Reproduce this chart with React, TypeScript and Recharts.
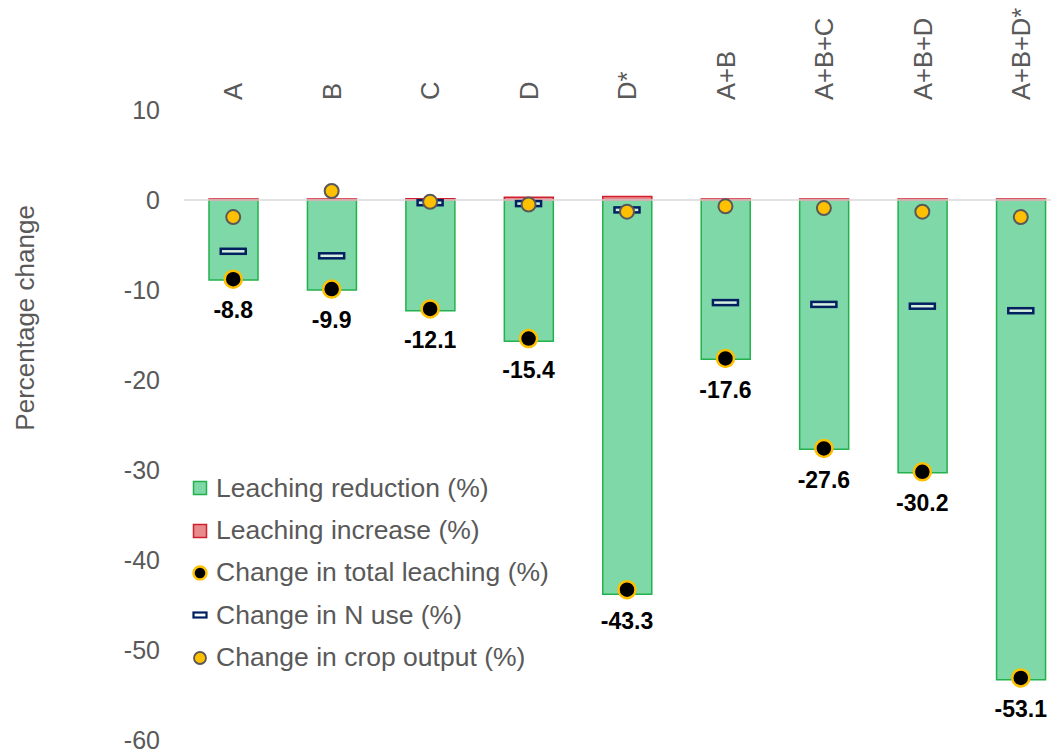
import React from 'react';
import {
  ComposedChart,
  Bar,
  Line,
  XAxis,
  YAxis,
  ReferenceLine,
  Legend,
  LabelList,
  Label,
} from 'recharts';

const categories = ['A', 'B', 'C', 'D', 'D*', 'A+B', 'A+B+C', 'A+B+D', 'A+B+D*'];
const leachingReduction = [-8.9, -10.0, -12.3, -15.7, -43.8, -17.7, -27.7, -30.3, -53.3];
const leachingIncrease = [0.1, 0.1, 0.15, 0.3, 0.4, 0.1, 0.1, 0.1, 0.1];
const totalLeaching = [-8.8, -9.9, -12.1, -15.4, -43.3, -17.6, -27.6, -30.2, -53.1];
const nUse = [-5.7, -6.2, -0.3, -0.4, -1.1, -11.4, -11.6, -11.8, -12.3];
const cropOutput = [-1.9, 1.0, -0.2, -0.5, -1.3, -0.7, -0.9, -1.3, -1.9];
const yTicks = [10, 0, -10, -20, -30, -40, -50, -60];

const seriesNames = {
  reduction: 'Leaching reduction (%)',
  increase: 'Leaching increase (%)',
  total: 'Change in total leaching (%)',
  nuse: 'Change in N use (%)',
  crop: 'Change in crop output (%)',
};

const data = categories.map((c, i) => ({
  name: c,
  reduction: leachingReduction[i],
  increase: leachingIncrease[i],
  total: totalLeaching[i],
  nuse: nUse[i],
  crop: cropOutput[i],
}));

const FONT = '"Liberation Sans", Arial, sans-serif';
const GRAY = '#595959';
const GREEN_FILL = '#7FD8A7';
const GREEN_STROKE = '#22B14C';
const RED_FILL = '#E8898C';
const RED_STROKE = '#D0202E';
const ORANGE = '#FFC000';
const NAVY = '#002060';

const CategoryTick = (props: any) => {
  const { x, y, payload } = props;
  return (
    <text
      x={x}
      y={y}
      transform={`rotate(-90, ${x}, ${y})`}
      textAnchor="start"
      dy="0.36em"
      fill={GRAY}
      fontSize={25.5}
      fontFamily={FONT}
    >
      {payload.value}
    </text>
  );
};

const TotalDot = (props: any) => {
  const { cx, cy } = props;
  if (cx == null || cy == null) return null;
  return <circle cx={cx} cy={cy} r={8.5} fill="#000" stroke={ORANGE} strokeWidth={2.5} />;
};

const CropDot = (props: any) => {
  const { cx, cy } = props;
  if (cx == null || cy == null) return null;
  return <circle cx={cx} cy={cy} r={7} fill={ORANGE} stroke={GRAY} strokeWidth={2} />;
};

const NUseDot = (props: any) => {
  const { cx, cy } = props;
  if (cx == null || cy == null) return null;
  return (
    <rect x={cx - 12.5} y={cy - 2.5} width={25} height={5} fill="#D5F0E0" stroke={NAVY} strokeWidth={2.5} />
  );
};

const TotalLabel = (props: any) => {
  const { x, y, value } = props;
  return (
    <text
      x={x}
      y={y + 31}
      textAnchor="middle"
      dy="0.36em"
      fill="#000"
      fontWeight="bold"
      fontSize={23}
      fontFamily={FONT}
    >
      {Number(value).toFixed(1)}
    </text>
  );
};

const YLabel = (props: any) => {
  const { viewBox } = props;
  const x = viewBox.x + 17;
  const y = viewBox.y + viewBox.height * 0.33;
  return (
    <text
      x={x}
      y={y}
      transform={`rotate(-90, ${x}, ${y})`}
      textAnchor="middle"
      dy="0.36em"
      fill={GRAY}
      fontSize={26}
      fontFamily={FONT}
    >
      Percentage change
    </text>
  );
};

const legendItems = [
  { key: 'reduction', marker: <rect x={1.5} y={1.5} width={13} height={13} fill={GREEN_FILL} stroke={GREEN_STROKE} strokeWidth={1.5} /> },
  { key: 'increase', marker: <rect x={1.5} y={1.5} width={13} height={13} fill={RED_FILL} stroke={RED_STROKE} strokeWidth={1.5} /> },
  { key: 'total', marker: <circle cx={8} cy={8} r={6.5} fill="#000" stroke={ORANGE} strokeWidth={2.5} /> },
  { key: 'nuse', marker: <rect x={1.5} y={5.5} width={13} height={5} fill="#fff" stroke={NAVY} strokeWidth={2.2} /> },
  { key: 'crop', marker: <circle cx={8} cy={8} r={6} fill={ORANGE} stroke={GRAY} strokeWidth={1.8} /> },
];

const LegendContent = () => (
  <div style={{ fontFamily: FONT, fontSize: 26.5, color: GRAY }}>
    {legendItems.map((it) => (
      <div key={it.key} style={{ display: 'flex', alignItems: 'center', height: 42.4, whiteSpace: 'nowrap' }}>
        <svg width={16} height={16} style={{ marginRight: 8, flex: 'none' }}>
          {it.marker}
        </svg>
        <span>{(seriesNames as any)[it.key]}</span>
      </div>
    ))}
  </div>
);

export default function App() {
  return (
    <div style={{ width: 1051, height: 747, overflow: 'hidden', position: 'relative' }}>
      <ComposedChart
        width={1066}
        height={747}
        data={data}
        stackOffset="sign"
        margin={{ top: 12, right: 4, bottom: 15, left: 0 }}
      >
        <XAxis
          dataKey="name"
          orientation="top"
          height={90}
          axisLine={false}
          tickLine={false}
          tickSize={0}
          tickMargin={10}
          interval={0}
          tick={<CategoryTick />}
        />
        <YAxis
          type="number"
          domain={[-60, 10]}
          ticks={yTicks}
          width={176}
          axisLine={false}
          tickLine={false}
          tickSize={0}
          tickMargin={24}
          tick={{ fill: GRAY, fontSize: 25, fontFamily: FONT }}
        >
          <Label content={<YLabel />} />
        </YAxis>
        <ReferenceLine y={0} stroke="#D9D9D9" strokeWidth={1.5} />
        <Bar
          dataKey="reduction"
          name={seriesNames.reduction}
          stackId="s"
          barSize={49}
          fill={GREEN_FILL}
          stroke={GREEN_STROKE}
          strokeWidth={1.5}
          isAnimationActive={false}
        />
        <Bar
          dataKey="increase"
          name={seriesNames.increase}
          stackId="s"
          barSize={49}
          fill={RED_FILL}
          stroke={RED_STROKE}
          strokeWidth={1.5}
          isAnimationActive={false}
        />
        <Line
          dataKey="nuse"
          name={seriesNames.nuse}
          stroke="none"
          strokeWidth={0}
          dot={<NUseDot />}
          activeDot={false}
          isAnimationActive={false}
        />
        <Line
          dataKey="total"
          name={seriesNames.total}
          stroke="none"
          strokeWidth={0}
          dot={<TotalDot />}
          activeDot={false}
          isAnimationActive={false}
        >
          <LabelList dataKey="total" content={<TotalLabel />} />
        </Line>
        <Line
          dataKey="crop"
          name={seriesNames.crop}
          stroke="none"
          strokeWidth={0}
          dot={<CropDot />}
          activeDot={false}
          isAnimationActive={false}
        />
        <Legend
          layout="vertical"
          align="center"
          verticalAlign="middle"
          content={<LegendContent />}
          wrapperStyle={{ left: 184, top: 459, width: 430, height: 215 }}
        />
      </ComposedChart>
    </div>
  );
}
